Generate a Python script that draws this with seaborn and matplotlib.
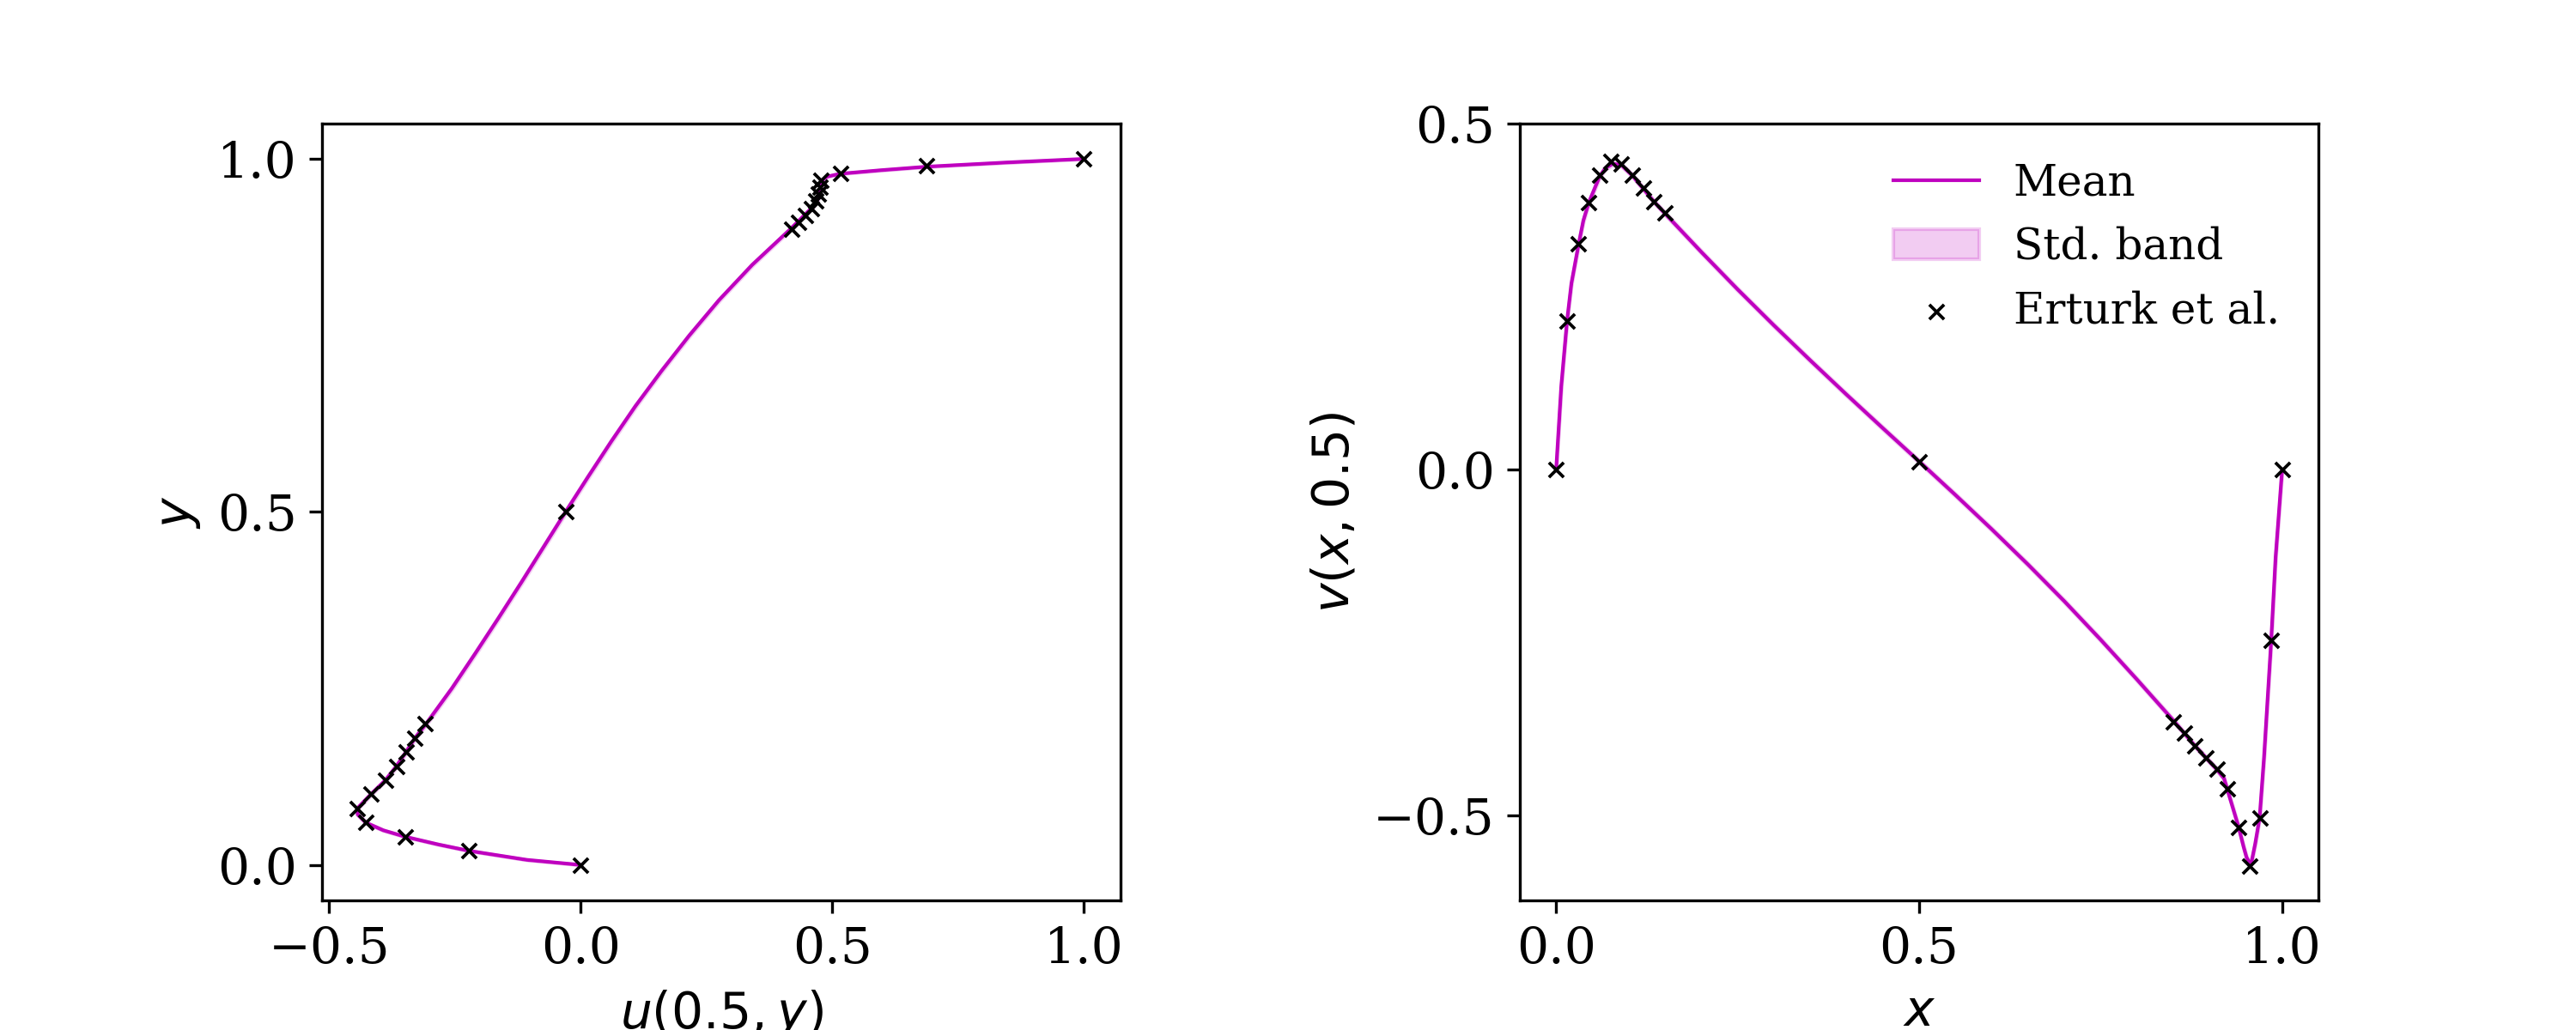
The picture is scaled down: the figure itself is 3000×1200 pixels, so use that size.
import numpy as np
import seaborn as sns
import matplotlib.pyplot as plt

plt.rcParams['font.family'] = 'serif'
plt.rcParams['font.size'] = 14

# u(0.5, y) along the vertical centre line: mean prediction
y_line = np.array([0.0, 0.0072, 0.02, 0.029, 0.04, 0.049, 0.06, 0.0715, 0.08, 0.10,
                   0.12, 0.14, 0.16, 0.18, 0.20, 0.25, 0.30, 0.35, 0.40, 0.45,
                   0.50, 0.55, 0.60, 0.65, 0.70, 0.75, 0.80, 0.85, 0.90, 0.912,
                   0.922, 0.931, 0.942, 0.953, 0.961, 0.969, 0.975, 0.979, 0.984, 0.989,
                   0.995, 1.0])
u_mean = np.array([0.0, -0.107, -0.222, -0.283, -0.349, -0.392, -0.427, -0.443, -0.444, -0.417,
                   -0.388, -0.366, -0.347, -0.329, -0.307, -0.256, -0.209, -0.163, -0.118, -0.074,
                   -0.030, 0.015, 0.061, 0.109, 0.161, 0.216, 0.275, 0.341, 0.416, 0.433,
                   0.447, 0.460, 0.470, 0.475, 0.477, 0.478, 0.490, 0.516, 0.597, 0.688,
                   0.848, 1.0])
u_std = 0.002  # band is thinner than the line

# v(x, 0.5) along the horizontal centre line: mean prediction
x_line = np.array([0.0, 0.007, 0.015, 0.021, 0.031, 0.0375, 0.045, 0.06, 0.068, 0.078,
                   0.09, 0.105, 0.12, 0.135, 0.15, 0.20, 0.25, 0.30, 0.35, 0.40,
                   0.45, 0.50, 0.55, 0.60, 0.65, 0.70, 0.75, 0.80, 0.85, 0.88,
                   0.91, 0.92, 0.94, 0.947, 0.951, 0.955, 0.958, 0.963, 0.969, 0.975,
                   0.985, 0.991, 1.0])
v_mean = np.array([0.0, 0.120, 0.215, 0.269, 0.326, 0.360, 0.386, 0.424, 0.436, 0.442,
                   0.440, 0.425, 0.406, 0.387, 0.370, 0.3145, 0.2605, 0.2085, 0.158, 0.1085,
                   0.060, 0.012, -0.0365, -0.086, -0.137, -0.190, -0.2455, -0.303, -0.362, -0.399,
                   -0.433, -0.446, -0.516, -0.545, -0.560, -0.568, -0.566, -0.540, -0.503, -0.417,
                   -0.246, -0.127, 0.0])
v_std = 0.002

# Erturk et al. reference values
y_ref = [0.0, 0.02, 0.04, 0.06, 0.08, 0.10, 0.12, 0.14, 0.16, 0.18, 0.20, 0.50,
         0.90, 0.91, 0.92, 0.93, 0.94, 0.95, 0.96, 0.97, 0.98, 0.99, 1.0]
u_ref = [0.0, -0.222, -0.349, -0.427, -0.444, -0.417, -0.388, -0.366, -0.347, -0.329, -0.309, -0.030,
         0.420, 0.433, 0.446, 0.458, 0.467, 0.472, 0.476, 0.478, 0.516, 0.688, 1.0]
x_ref = [0.0, 0.015, 0.03, 0.045, 0.06, 0.075, 0.09, 0.105, 0.12, 0.135, 0.15, 0.5,
         0.85, 0.865, 0.88, 0.895, 0.91, 0.925, 0.94, 0.955, 0.97, 0.985, 1.0]
v_ref = [0.0, 0.215, 0.326, 0.386, 0.426, 0.445, 0.442, 0.426, 0.407, 0.387, 0.371, 0.011,
         -0.364, -0.381, -0.399, -0.417, -0.433, -0.461, -0.517, -0.573, -0.503, -0.246, 0.0]

fig, axes = plt.subplots(1, 2, figsize=(10, 4), dpi=300)
fig.subplots_adjust(left=0.125, right=0.9, bottom=0.126, top=0.88, wspace=0.5)

# left: u along x = 0.5
ax = axes[0]
sns.lineplot(x=u_mean, y=y_line, sort=False, estimator=None, color='m', linewidth=1.0, ax=ax)
ax.fill_betweenx(y_line, u_mean - u_std, u_mean + u_std, color='m', alpha=0.2)
sns.scatterplot(x=u_ref, y=y_ref, marker='x', color='k', s=17, linewidth=0.9, ax=ax, zorder=3)
ax.set_xlim(-0.514, 1.073)
ax.set_ylim(-0.05, 1.05)
ax.set_xticks([-0.5, 0.0, 0.5, 1.0])
ax.set_yticks([0.0, 0.5, 1.0])
ax.set_xlabel('$u(0.5, y)$')
ax.set_ylabel('$y$')

# right: v along y = 0.5
ax = axes[1]
sns.lineplot(x=x_line, y=v_mean, sort=False, estimator=None, color='m', linewidth=1.0,
             label='Mean', ax=ax)
ax.fill_between(x_line, v_mean - v_std, v_mean + v_std, color='m', alpha=0.2, label='Std. band')
sns.scatterplot(x=x_ref, y=v_ref, marker='x', color='k', s=17, linewidth=0.9,
                label='Erturk et al.', ax=ax, zorder=3)
ax.set_xlim(-0.05, 1.05)
ax.set_ylim(-0.622, 0.5)
ax.set_xticks([0.0, 0.5, 1.0])
ax.set_yticks([-0.5, 0.0, 0.5])
ax.set_xlabel('$x$')
ax.set_ylabel('$v(x, 0.5)$')
ax.legend(frameon=False, fontsize=12, loc='upper right')

fig.savefig('out.png', dpi=300)
